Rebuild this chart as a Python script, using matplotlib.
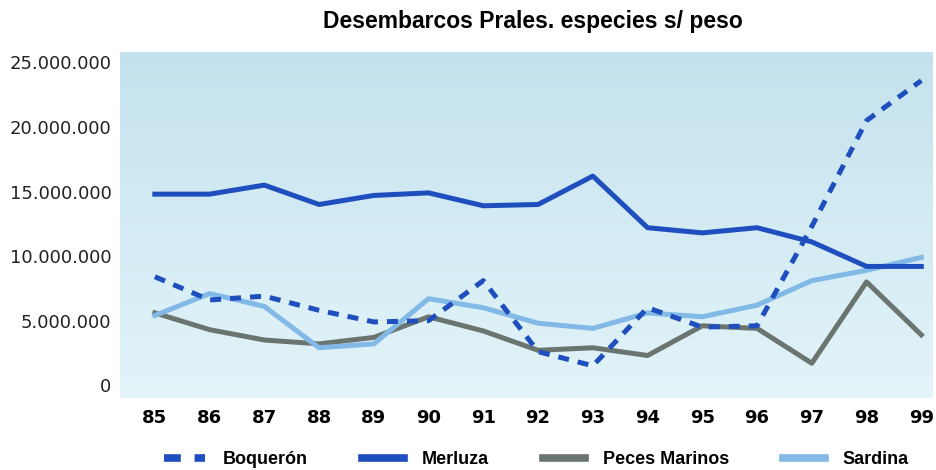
import numpy as np
import matplotlib
matplotlib.use('Agg')
import matplotlib.pyplot as plt
from matplotlib.ticker import FuncFormatter

# años (eje x)
years = [85, 86, 87, 88, 89, 90, 91, 92, 93, 94, 95, 96, 97, 98, 99]
# desembarcos en millones de kg
boqueron = [8.4, 6.6, 6.9, 5.8, 4.9, 5.0, 8.1, 2.6, 1.5, 6.0, 4.5, 4.6, 12.3, 20.5, 23.6]
merluza = [14.8, 14.8, 15.5, 14.0, 14.7, 14.9, 13.9, 14.0, 16.2, 12.2, 11.8, 12.2, 11.1, 9.2, 9.2]
peces_marinos = [5.6, 4.3, 3.5, 3.2, 3.7, 5.3, 4.2, 2.7, 2.9, 2.3, 4.6, 4.4, 1.7, 8.0, 3.9]
sardina = [5.4, 7.1, 6.1, 2.9, 3.2, 6.7, 6.0, 4.8, 4.4, 5.6, 5.3, 6.2, 8.1, 8.9, 9.9]

fig = plt.figure(figsize=(9.36, 4.70), dpi=100)
ax = fig.add_axes([0.128, 0.153, 0.868, 0.736])

# fondo degradado azul claro
grad = np.linspace(0, 1, 256).reshape(-1, 1)
cmap = matplotlib.colors.LinearSegmentedColormap.from_list('bg', ['#c4e2ee', '#e3f4f9'])
ax.imshow(grad, aspect='auto', cmap=cmap, extent=[0, 1, 0, 1],
          transform=ax.transAxes, zorder=0)

m = 1e6
ax.plot(years, [v * m for v in boqueron], color='#1f4fbf', lw=3.6,
        dashes=(2.2, 1.8), label='Boquerón', zorder=3)
ax.plot(years, [v * m for v in merluza], color='#1f4fbf', lw=3.6,
        label='Merluza', zorder=3)
ax.plot(years, [v * m for v in peces_marinos], color='#6b7570', lw=3.6,
        label='Peces Marinos', zorder=2)
ax.plot(years, [v * m for v in sardina], color='#82b9e6', lw=3.6,
        label='Sardina', zorder=2)

ax.set_xlim(84.36, 99.2)
ax.set_ylim(-1.0e6, 25.8e6)
ax.set_yticks([0, 5e6, 10e6, 15e6, 20e6, 25e6])
ax.yaxis.set_major_formatter(FuncFormatter(lambda v, p: f'{int(v):,}'.replace(',', '.')))
ax.set_xticks(years)
ax.set_xticklabels([str(y) for y in years], fontweight='bold', fontsize=13)
ax.tick_params(axis='y', labelsize=13, length=0, pad=6, colors='#222222')
ax.tick_params(axis='x', length=0, pad=8)
for s in ax.spines.values():
    s.set_visible(False)

fig.text(0.569, 0.955, 'Desembarcos Prales. especies s/ peso', ha='center', va='center',
         fontsize=16.5, fontweight='bold', family='Liberation Sans')

leg = fig.legend(loc='lower center', bbox_to_anchor=(0.573, -0.03), ncol=4, frameon=False,
                 prop={'weight': 'bold', 'size': 13, 'family': 'Liberation Sans'},
                 handlelength=2.3, columnspacing=3.0, handletextpad=1.0)
for h in leg.get_lines():
    h.set_linewidth(5.5)

fig.savefig('out.png', dpi=100)
